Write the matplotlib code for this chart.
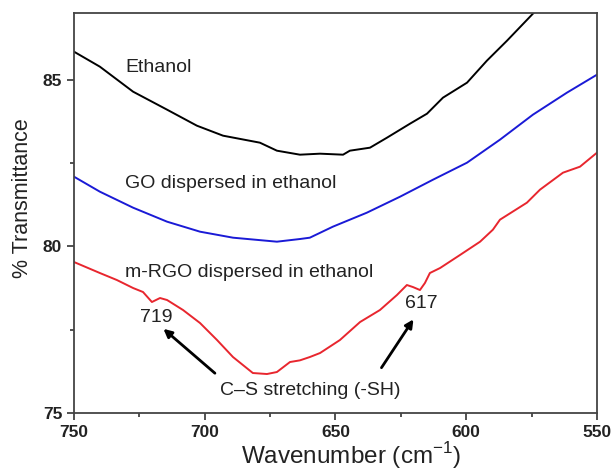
import matplotlib
matplotlib.use('Agg')
import matplotlib.pyplot as plt
from matplotlib.ticker import MultipleLocator

plt.rcParams['font.family'] = ['Liberation Sans', 'DejaVu Sans']

# Spectra (wavenumber, % transmittance)
eth_x = [750, 740.1, 727.4, 714.4, 703.0, 693.0, 678.9, 672.4, 663.6, 655.9,
         647.1, 644.5, 636.8, 630.3, 621.5, 615.0, 608.9, 599.7, 592.1, 584.4,
         574.5, 568.0]
eth_y = [85.84, 85.39, 84.64, 84.10, 83.62, 83.32, 83.11, 82.87, 82.75, 82.78,
         82.75, 82.87, 82.96, 83.26, 83.68, 83.98, 84.46, 84.91, 85.57, 86.17,
         86.98, 87.5]

go_x = [750, 740.1, 727.4, 714.4, 701.8, 689.2, 672.4, 663.6, 659.8, 651.0,
        638.0, 625.3, 612.7, 599.7, 587.1, 574.5, 561.5, 550]
go_y = [82.09, 81.64, 81.16, 80.74, 80.44, 80.26, 80.14, 80.22, 80.26, 80.59,
        81.01, 81.49, 82.00, 82.51, 83.20, 83.95, 84.61, 85.15]

rgo_x = [750, 740.1, 733.6, 727.4, 723.6, 720.2, 717.1, 714.4, 708.3, 701.8,
         695.3, 689.2, 681.6, 676.2, 672.4, 667.4, 663.6, 659.8, 655.9, 648.3,
         640.6, 633.0, 626.5, 622.7, 620.4, 617.7, 615.8, 613.9, 610.0, 602.4,
         594.7, 589.8, 587.1, 576.8, 571.8, 563.0, 556.5, 550]
rgo_y = [79.53, 79.20, 78.99, 78.75, 78.63, 78.33, 78.45, 78.39, 78.09, 77.70,
         77.19, 76.68, 76.20, 76.17, 76.23, 76.53, 76.58, 76.68, 76.80, 77.19,
         77.73, 78.09, 78.54, 78.84, 78.78, 78.69, 78.90, 79.20, 79.35, 79.74,
         80.14, 80.50, 80.80, 81.31, 81.70, 82.21, 82.39, 82.81]

fig = plt.figure(figsize=(6.15, 4.73), dpi=100)
ax = fig.add_axes([0.1203, 0.1268, 0.8504, 0.8457])

ax.plot(eth_x, eth_y, color='black', lw=1.4)
ax.plot(go_x, go_y, color='#1a1ad6', lw=1.4)
ax.plot(rgo_x, rgo_y, color='#e8262e', lw=1.4)

ax.set_xlim(750, 550)
ax.set_ylim(75, 87)
ax.xaxis.set_major_locator(MultipleLocator(50))
ax.xaxis.set_minor_locator(MultipleLocator(25))
ax.yaxis.set_major_locator(MultipleLocator(5))
ax.yaxis.set_minor_locator(MultipleLocator(2.5))
ax.tick_params(which='both', direction='out', top=False, right=False,
               width=1.2, colors='#333333')
ax.tick_params(which='major', length=5, labelsize=12.5)
ax.tick_params(which='minor', length=3)
for lab in ax.get_xticklabels() + ax.get_yticklabels():
    lab.set_fontweight('bold')
    lab.set_color('#222222')
for s in ax.spines.values():
    s.set_linewidth(1.3)
    s.set_color('#444444')

ax.set_xlabel('Wavenumber (cm$^{\\mathregular{-1}}$)', fontsize=17.5, color='#222222')
ax.set_ylabel('% Transmittance', fontsize=15.5, color='#222222')
ax.xaxis.set_label_coords(0.53, -0.068)
ax.yaxis.set_label_coords(-0.078, 0.537)

kw = dict(fontsize=14, color='#222222', va='center')
ax.text(730.5, 85.36, 'Ethanol', ha='left', **kw)
ax.text(730.5, 81.9, 'GO dispersed in ethanol', ha='left', **kw)
ax.text(730.5, 79.23, 'm-RGO dispersed in ethanol', ha='left', **kw)
ax.text(718.6, 77.88, '719', ha='center', **kw)
ax.text(617.3, 78.3, '617', ha='center', **kw)
ax.text(659.8, 75.69, 'C\u2013S stretching (-SH)', ha='center', **kw)

arrow = dict(arrowstyle='-|>', color='black', lw=2, mutation_scale=12)
ax.annotate('', xy=(716.6, 77.58), xytext=(695.3, 76.14), arrowprops=arrow)
ax.annotate('', xy=(619.6, 77.88), xytext=(633.0, 76.29), arrowprops=arrow)

fig.savefig('out.png', dpi=100)
